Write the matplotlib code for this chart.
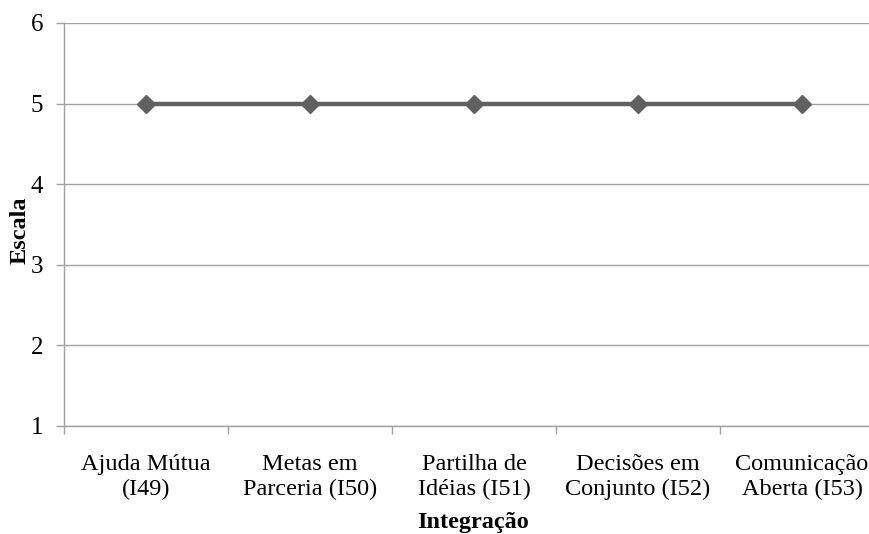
import matplotlib
matplotlib.use("Agg")
import matplotlib.pyplot as plt

categories = ["Ajuda Mútua\n(I49)", "Metas em\nParceria (I50)", "Partilha de\nIdéias (I51)",
              "Decisões em\nConjunto (I52)", "Comunicação\nAberta (I53)"]
values = [5, 5, 5, 5, 5]
y_ticks = [1, 2, 3, 4, 5, 6]

plt.rcParams["font.family"] = ["Liberation Serif", "DejaVu Serif"]

fig = plt.figure(figsize=(8.70, 5.34), dpi=100)
ax = fig.add_axes([64 / 870, 1 - 426 / 534, 820 / 870, 403 / 534])

x = list(range(len(categories)))
ax.plot(x, values, color="#606060", linewidth=3.2, marker="D", markersize=9.5,
        markerfacecolor="#606060", markeredgecolor="#606060", zorder=3,
        solid_capstyle="butt")

ax.set_xlim(-0.5, len(categories) - 0.5)
ax.set_ylim(1, 6)
ax.set_yticks(y_ticks)
ax.set_yticklabels([str(v) for v in y_ticks], fontsize=18)
ax.yaxis.grid(True, color="#a0a0a0", linewidth=1.0)
ax.set_axisbelow(True)

ax.set_xticks(x)
ax.set_xticklabels(categories, fontsize=17.5, linespacing=1.28)
ax.set_xticks([i + 0.5 for i in range(len(categories) - 1)] + [-0.5], minor=True)
ax.tick_params(axis="x", which="major", length=0, pad=20)
ax.tick_params(axis="x", which="minor", length=6, color="#a0a0a0", width=1)
ax.tick_params(axis="y", length=6, color="#a0a0a0", width=1, pad=9)

for side in ("top", "right"):
    ax.spines[side].set_visible(False)
for side in ("left", "bottom"):
    ax.spines[side].set_color("#a0a0a0")
    ax.spines[side].set_linewidth(1.0)

ax.set_ylabel("Escala", fontsize=17.5, fontweight="bold")
ax.yaxis.set_label_coords(-0.041, 0.486)
ax.set_xlabel("Integração", fontsize=17.5, fontweight="bold")
ax.xaxis.set_label_coords(0.4985, -0.214)

fig.savefig("out.png", dpi=100)
